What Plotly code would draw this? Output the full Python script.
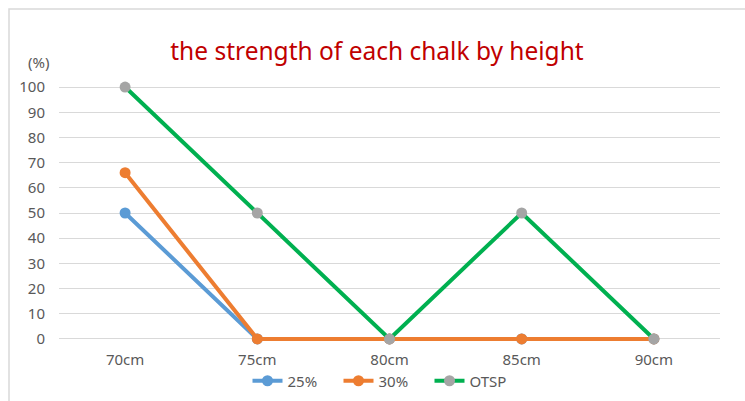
import plotly.graph_objects as go

heights = ["70cm", "75cm", "80cm", "85cm", "90cm"]
s25 = [50, 0, 0, 0, 0]
s30 = [66, 0, 0, 0, 0]
otsp = [100, 50, 0, 50, 0]

FONT = "Noto Sans"
TICK = "#595959"
GRID = "#D9D9D9"

# plot area spans y = -4..104 so the thick lines at 0 and 100 are not clipped
T, B = 77, 52
PH = 401 - T - B


def py(pixel_y):
    """paper y coordinate from a pixel row"""
    return (401 - B - pixel_y) / PH


L, R = 59, 25
PW = 745 - L - R


def px(pixel_x):
    return (pixel_x - L) / PW


fig = go.Figure()
series = [
    ("25%", s25, "#5B9BD5", "#5B9BD5"),
    ("30%", s30, "#ED7D31", "#ED7D31"),
    ("OTSP", otsp, "#00B050", "#A5A5A5"),
]
for name, vals, lc, mc in series:
    fig.add_trace(go.Scatter(
        x=heights, y=vals, name=name, mode="lines+markers",
        line=dict(color=lc, width=4),
        marker=dict(color=mc, size=11),
        cliponaxis=False,
    ))

fig.update_layout(
    width=745, height=401,
    margin=dict(l=L, r=R, t=T, b=B, autoexpand=False),
    plot_bgcolor="white", paper_bgcolor="white",
    font=dict(family=FONT, color=TICK, size=14),
    title=dict(text="the strength of each chalk by height",
               font=dict(family=FONT, size=24.5, color="#C00000"),
               x=0.506, xanchor="center", y=0.872, yanchor="middle"),
    showlegend=True,
    legend=dict(orientation="h", x=px(384), xanchor="center", y=py(381), yanchor="middle",
                font=dict(size=15, color=TICK), tracegroupgap=0, entrywidth=46,
                bgcolor="rgba(0,0,0,0)"),
    xaxis=dict(type="category", range=[-0.5, 4.5], showgrid=False, zeroline=False,
               showline=False, ticks="", ticklabelstandoff=0,
               tickfont=dict(size=15, color=TICK)),
    yaxis=dict(range=[-4, 104], showgrid=True, gridcolor=GRID, gridwidth=1,
               zeroline=False, showline=False, ticks="", ticklen=0,
               tickvals=list(range(0, 101, 10)), ticklabelstandoff=13,
               tickfont=dict(size=15, color=TICK)),
    annotations=[dict(text="(%)", xref="paper", yref="paper", x=px(38), y=py(62),
                      xanchor="center", yanchor="middle", showarrow=False,
                      font=dict(size=15, color=TICK))],
    shapes=[dict(type="rect", xref="paper", yref="paper",
                 x0=px(9), x1=px(760), y0=py(420), y1=py(9),
                 line=dict(color=GRID, width=1.5), layer="below")],
)

fig.write_html("out.html")
